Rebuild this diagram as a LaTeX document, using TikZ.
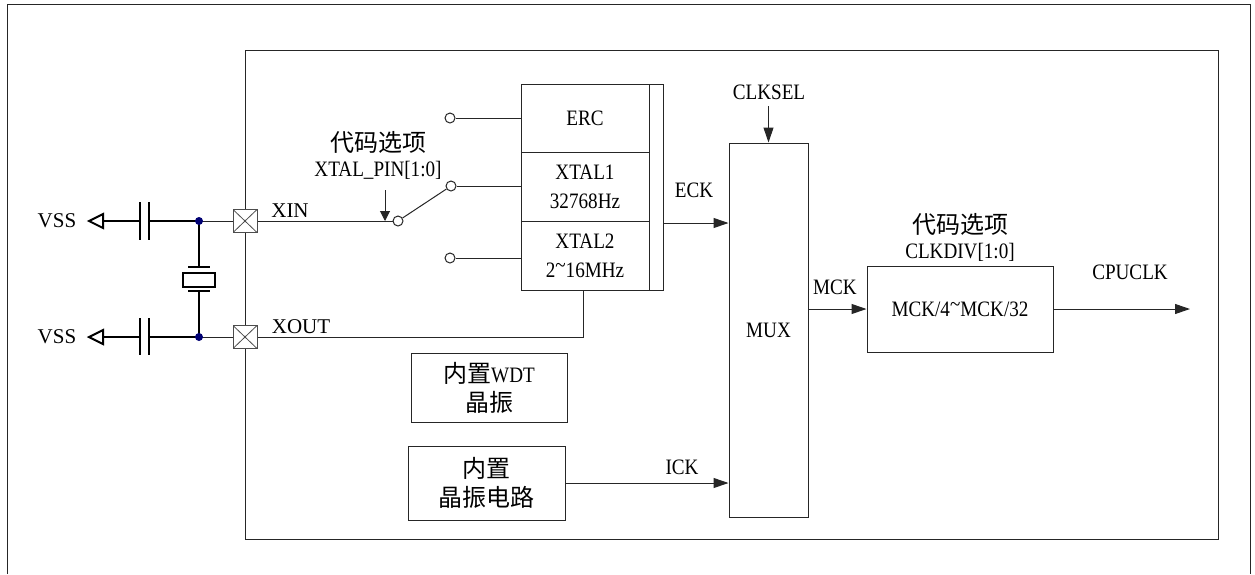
\documentclass[tikz,border=0pt]{standalone}
\usepackage{fontspec}
\setmainfont{Liberation Serif}
\newfontfamily\cjk{Noto Sans CJK SC}
\newfontfamily\lat[FakeStretch=0.87]{Liberation Serif}
\usetikzlibrary{arrows.meta}
\newcommand\zh[1]{{\cjk\fontsize{24}{29}\selectfont #1}}
\newcommand\tld{\raisebox{5pt}{\textasciitilde}}
\begin{document}
\begin{tikzpicture}[x=1pt,y=-1pt,
  ln/.style={line width=1pt, draw=black!85},
  thk/.style={line width=2pt, draw=black},
  arr/.style={ln, -{Triangle[length=15pt,width=10pt]}},
  box/.style={ln, draw, rectangle, inner sep=0pt, align=center, font=\lat\fontsize{22}{29}\selectfont, fill=white},
  txt/.style={inner sep=0pt, align=center, font=\lat\fontsize{22}{29}\selectfont},
  cjktxt/.style={inner sep=0pt, align=center, font=\cjk\fontsize{24}{29}\selectfont},
  tms/.style={inner sep=0pt, font=\fontsize{21}{25}\selectfont},
  sw/.style={circle, ln, draw, inner sep=0pt, minimum size=10pt, fill=white},
  pin/.style={ln, draw=black!70, fill=white, rectangle, minimum width=24pt, minimum height=23pt, inner sep=0pt,
    path picture={\draw[black!70, line width=0.8pt]
      (path picture bounding box.south west) -- (path picture bounding box.north east)
      (path picture bounding box.north west) -- (path picture bounding box.south east);}},
]
\useasboundingbox (0,0) rectangle (1255,574);
% outer frame
\draw[ln] (7,574) -- (7,4.5) -- (1250,4.5) -- (1250,574);
% chip
\draw[ln] (245,50) rectangle (1218,539);
% pins
\node[pin] (pxin) at (245,221) {};
\node[pin] (pxout) at (245,337) {};
\node[tms] (lxin) at (290,211) {XIN};
\node[tms] (lxout) at (301,327) {XOUT};
% junctions
\coordinate (ja) at (199,221);
\coordinate (jb) at (199,337);
\draw[ln] (ja) -- (pxin.west);
\draw[ln] (jb) -- (pxout.west);
% capacitors and VSS
\node[tms] (vss1) at (57,221) {VSS};
\node[tms] (vss2) at (57,337) {VSS};
\foreach \yy/\ya/\yb in {221/202/240, 337/318/355}{
  \draw[thk] (ja |- 0,\yy) -- (149,\yy);
  \draw[thk] (149,\ya) -- (149,\yb);
  \draw[thk] (140,\ya) -- (140,\yb);
  \draw[thk] (140,\yy) -- (103,\yy);
  \draw[thk, line join=miter] (103,\yy-7) -- (89,\yy) -- (103,\yy+7) -- cycle;
}
% crystal
\draw[thk] (ja) -- (199,267);
\draw[thk] (188,267) -- (210,267);
\draw[thk] (183,273) rectangle (215,287);
\draw[thk] (188,291) -- (210,291);
\draw[thk] (199,291) -- (jb);
\fill[blue!45!black] (ja) circle (4);
\fill[blue!45!black] (jb) circle (4);
% switch
\node[sw] (s0) at (398,221) {};
\node[sw] (s1) at (451,186) {};
\node[sw] (sE) at (450,118) {};
\node[sw] (s2) at (450,258) {};
\draw[ln] (pxin.east) -- (s0.west);
\draw[ln] (s0) -- (s1);
% oscillator block
\node[box, minimum width=128pt, minimum height=68pt] (erc) at (585,118) {ERC};
\node[box, minimum width=128pt, minimum height=69pt] (x1) at (585,186.5) {XTAL1\\32768Hz};
\node[box, minimum width=128pt, minimum height=69pt] (x2) at (585,255.5) {XTAL2\\2\tld16MHz};
\node[box, minimum width=14pt, minimum height=206pt] (bar) at (656,187) {};
\draw[ln] (sE.east) -- (erc.west);
\draw[ln] (s1.east) -- (s1.east -| x1.west);
\draw[ln] (s2.east) -- (s2.east -| x2.west);
% option label
\node[cjktxt] (opt1) at (378,142) {代码选项};
\node[txt] (xtp) at (378,170) {XTAL\_PIN[1:0]};
\coordinate (pa) at (385,190);
\draw[ln, -{Triangle[length=10pt,width=10pt]}] (pa) -- (pa |- s0.center);
% XOUT wire
\draw[ln] (pxout.east) -| ([xshift=-2pt]x2.south);
% MUX
\node[box, minimum width=79pt, minimum height=374pt] (mux) at (768.5,330) {MUX};
\node[txt] (clksel) at (769,92) {CLKSEL};
\coordinate (csl) at (768.5,106);
\draw[arr] (csl) -- (mux.north);
\coordinate (eck) at (0,223);
\draw[arr] (bar.east |- eck) -- (mux.west |- eck);
\node[txt] (leck) at (694,190) {ECK};
% divider
\node[box, minimum width=186pt, minimum height=86pt] (div) at (960,309) {MCK/4\tld MCK/32};
\draw[arr] (mux.east |- div.west) -- (div.west);
\node[txt] (lmck) at (835,287) {MCK};
\node[cjktxt] (opt2) at (960,224) {代码选项};
\node[txt] (cdiv) at (960,252) {CLKDIV[1:0]};
\coordinate (cpu) at (1190,309);
\draw[arr] (div.east) -- (cpu);
\node[txt] (lcpu) at (1130,272) {CPUCLK};
% internal oscillators
\node[box, minimum width=156pt, minimum height=69pt] (wdt) at (489,387.5) {\zh{内置}WDT\\\zh{晶振}};
\node[box, minimum width=157pt, minimum height=74pt] (osc) at (486.5,483) {\zh{内置}\\\zh{晶振电路}};
\draw[arr] (osc.east) -- (osc.east -| mux.west);
\node[txt] (lick) at (682,467) {ICK};
\end{tikzpicture}
\end{document}
